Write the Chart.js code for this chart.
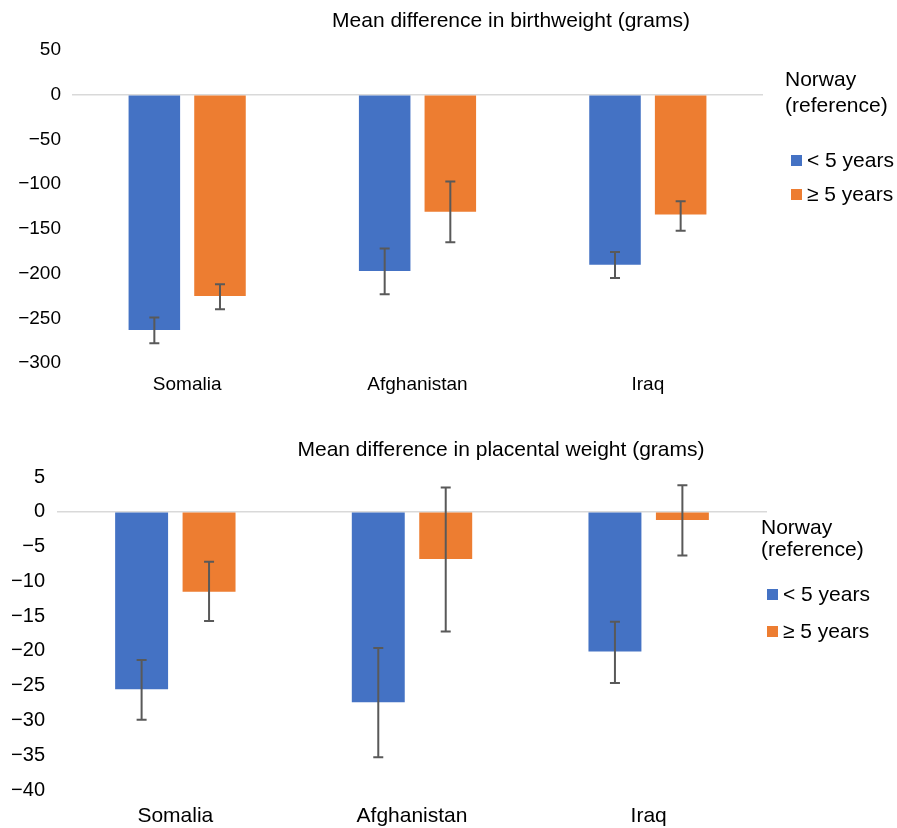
<!DOCTYPE html>
<html>
<head>
<meta charset="utf-8">
<script src="https://cdn.jsdelivr.net/npm/chart.js@4/dist/chart.umd.min.js"></script>
<style>
  body { margin: 0; background: #fff; font-family: "Liberation Sans", Arial, sans-serif; color: #000; }
  #wrap { position: relative; width: 897px; height: 828px; overflow: hidden; }
  .box { position: absolute; left: 0; width: 897px; }
  .txt { position: absolute; white-space: nowrap; font-size: 21px; line-height: 24px; }
  .sw { position: absolute; width: 11px; height: 11px; }
</style>
</head>
<body>
<div id="wrap">
  <div class="box" style="top:0;height:410px"><canvas id="birth"></canvas></div>
  <div class="box" style="top:420px;height:408px"><canvas id="placenta"></canvas></div>

  <div class="txt" style="left:511px;top:8px;transform:translateX(-50%)">Mean difference in birthweight (grams)</div>
  <div class="txt" style="left:785px;top:67px">Norway</div>
  <div class="txt" style="left:785px;top:93px">(reference)</div>
  <div class="sw" style="left:791px;top:155px;background:#4472C4"></div>
  <div class="txt" style="left:807px;top:148px">&lt; 5 years</div>
  <div class="sw" style="left:791px;top:189px;background:#ED7D31"></div>
  <div class="txt" style="left:807px;top:182px">&ge; 5 years</div>

  <div class="txt" style="left:501px;top:437px;transform:translateX(-50%)">Mean difference in placental weight (grams)</div>
  <div class="txt" style="left:761px;top:515px">Norway</div>
  <div class="txt" style="left:761px;top:537px">(reference)</div>
  <div class="sw" style="left:767px;top:589px;background:#4472C4"></div>
  <div class="txt" style="left:783px;top:582px">&lt; 5 years</div>
  <div class="sw" style="left:767px;top:626px;background:#ED7D31"></div>
  <div class="txt" style="left:783px;top:619px">&ge; 5 years</div>
</div>

<script>
const countries = ["Somalia", "Afghanistan", "Iraq"];
const seriesNames = ["< 5 years", "\u2265 5 years"];

// birthweight, grams
const birthUnder5 = [-263, -197, -190];
const birthUnder5Low = [-278, -223, -205];
const birthUnder5High = [-249, -172, -176];
const birthOver5 = [-225, -131, -134];
const birthOver5Low = [-240, -165, -152];
const birthOver5High = [-212, -97, -119];

// placental weight, grams
const placUnder5 = [-25.5, -27.4, -20.1];
const placUnder5Low = [-29.9, -35.3, -24.6];
const placUnder5High = [-21.3, -19.6, -15.8];
const placOver5 = [-11.5, -6.8, -1.2];
const placOver5Low = [-15.7, -17.2, -6.3];
const placOver5High = [-7.2, 3.5, 3.8];

const fontFam = '"Liberation Sans", Arial, sans-serif';

const errorBars = {
  id: "errorBars",
  afterDatasetsDraw(chart) {
    const y = chart.scales.y;
    const c = chart.ctx;
    c.save();
    c.strokeStyle = "#595959";
    c.lineWidth = 2;
    chart.data.datasets.forEach((ds, i) => {
      chart.getDatasetMeta(i).data.forEach((bar, j) => {
        const top = y.getPixelForValue(ds.hi[j]);
        const bot = y.getPixelForValue(ds.lo[j]);
        c.beginPath();
        c.moveTo(bar.x, top); c.lineTo(bar.x, bot);
        c.moveTo(bar.x - 5, top); c.lineTo(bar.x + 5, top);
        c.moveTo(bar.x - 5, bot); c.lineTo(bar.x + 5, bot);
        c.stroke();
      });
    });
    c.restore();
  }
};

function minus(v) {
  return v < 0 ? "\u2212" + Math.abs(v) : "" + v;
}

function makeChart(id, a, aLo, aHi, b, bLo, bHi, o) {
  return new Chart(document.getElementById(id), {
    type: "bar",
    data: {
      labels: countries,
      datasets: [
        { label: seriesNames[0], data: a, lo: aLo, hi: aHi, backgroundColor: "#4472C4" },
        { label: seriesNames[1], data: b, lo: bLo, hi: bHi, backgroundColor: "#ED7D31" }
      ]
    },
    options: {
      responsive: true,
      maintainAspectRatio: false,
      animation: false,
      categoryPercentage: 0.57,
      barPercentage: 0.785,
      layout: { padding: { top: o.top, right: o.right, left: 0, bottom: 0 } },
      plugins: { legend: { display: false }, title: { display: false }, tooltip: { enabled: false } },
      scales: {
        x: {
          grid: { display: false, drawTicks: false },
          border: { display: false },
          ticks: { color: "#000", padding: o.xPad, font: { family: fontFam, size: o.xFont } },
          afterFit(s) { s.height = o.xHeight; }
        },
        y: {
          min: o.min, max: o.max,
          ticks: { stepSize: o.step, color: "#000", padding: o.yPad, font: { family: fontFam, size: o.yFont }, callback: minus },
          grid: {
            drawTicks: false,
            lineWidth: 1.5,
            color: (ctx) => (ctx.tick && ctx.tick.value === 0 ? "#d9d9d9" : "rgba(0,0,0,0)")
          },
          border: { display: false },
          afterFit(s) { s.width = o.yWidth; }
        }
      }
    },
    plugins: [errorBars]
  });
}

makeChart("birth", birthUnder5, birthUnder5Low, birthUnder5High, birthOver5, birthOver5Low, birthOver5High,
  { top: 50, right: 134, xHeight: 47, xPad: 10, xFont: 19, yWidth: 72, yPad: 11, yFont: 19, min: -300, max: 50, step: 50 });

makeChart("placenta", placUnder5, placUnder5Low, placUnder5High, placOver5, placOver5Low, placOver5High,
  { top: 57, right: 130, xHeight: 38, xPad: 14, xFont: 21, yWidth: 57, yPad: 12, yFont: 20, min: -40, max: 5, step: 5 });
</script>
</body>
</html>
